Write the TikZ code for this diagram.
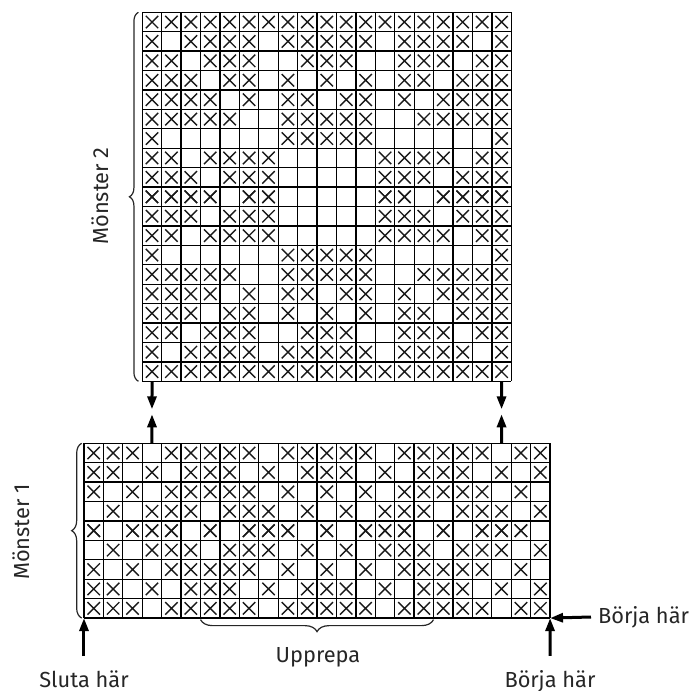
\documentclass[tikz,border=0pt]{standalone}
\usepackage{fontspec}
\setmainfont{Fira Sans}
\usetikzlibrary{arrows.meta,decorations.pathreplacing}
\tikzstyle{ruta}=[line width=0.65pt,draw=black]
\tikzstyle{kryss}=[line width=0.7pt,draw=black!90]
\tikzstyle{pil}=[line width=1.5pt,-{Triangle[length=6.5pt,width=4.5pt]}]
\tikzstyle{klammer}=[decorate,decoration={brace,amplitude=5pt},line width=0.6pt,draw=black!85]
\tikzstyle{etikett}=[text=black!85,font=\fontsize{10.9}{13}\selectfont]
\newcommand{\kryss}[2]{\draw[kryss] ({#1+0.18},{#2+0.18}) -- ({#1+0.82},{#2+0.82}) ({#1+0.82},{#2+0.18}) -- ({#1+0.18},{#2+0.82});}

\begin{document}
\begin{tikzpicture}[x=0.5pt,y=-0.5pt]
    \useasboundingbox (0,0) rectangle (693,691);

    % Moenster 2, 19 x 19
    \begin{scope}[shift={(142.3,12.3)},x=9.71pt,y=-9.71pt]
        \foreach \i in {0,...,19} {
            \draw[ruta] (\i,0) -- (\i,19);
            \draw[ruta] (0,\i) -- (19,\i);
        }
        \foreach \r/\cs in {0/{0,...,18}, 1/{0,2,3,4,5,7,8,9,10,11,13,14,15,16,18},
                2/{0,1,3,4,5,8,9,10,13,14,15,17,18}, 3/{0,1,2,4,5,7,9,11,13,14,16,17,18},
                4/{0,1,2,3,5,7,8,10,11,13,15,16,17,18}, 5/{0,1,2,3,4,7,8,9,10,11,14,15,16,17,18},
                6/{0,7,8,9,10,11,18}, 7/{0,1,3,4,5,6,12,13,14,15,17,18},
                8/{0,1,2,4,5,6,12,13,14,16,17,18}, 9/{0,1,2,3,5,6,12,13,15,16,17,18}} {
            \foreach \c in \cs {\kryss{\c}{\r} \kryss{\c}{18-\r}}
        }
        \coordinate (m2vn) at (0.5,19);
        \coordinate (m2hn) at (18.5,19);
        \draw[klammer,decoration={amplitude=4.5pt}] (-0.2,19) -- (-0.2,0);
    \end{scope}

    % Moenster 1, 24 x 9
    \begin{scope}[shift={(84,443.3)},x=9.71pt,y=-9.71pt]
        \foreach \i in {0,...,24} \draw[ruta] (\i,0) -- (\i,9);
        \foreach \i in {0,...,9} \draw[ruta] (0,\i) -- (24,\i);
        \foreach \r/\cs in {0/{0,1,2,4,5,6,7,8,10,11}, 1/{0,1,3,5,6,7,9,11},
                2/{0,2,4,5,6,7,8,10}, 3/{1,3,4,5,7,8,9,11}, 4/{0,2,3,4,6,8,9,10}} {
            \foreach \c in \cs {\kryss{\c}{\r} \kryss{\c+12}{\r} \kryss{\c}{8-\r} \kryss{\c+12}{8-\r}}
        }
        \coordinate (m1vo) at (3.5,0);
        \coordinate (m1ho) at (21.5,0);
        \coordinate (m1vn) at (0,9);
        \coordinate (m1hn) at (24,9);
        \draw[klammer] (-0.12,9) -- (-0.12,0);
        \draw[klammer,decoration={amplitude=6pt}] (18,9.08) -- (6,9.08);
    \end{scope}

    \node[etikett,rotate=90] (m2text) at (100,196) {Mönster 2};
    \node[etikett,rotate=90] (m1text) at (21,532) {Mönster 1};
    \node[etikett,anchor=base] (upprepa) at (318,662) {Upprepa};
    \node[etikett,anchor=base] (sluta) at (84,687) {Sluta här};
    \node[etikett,anchor=base] (borja) at (550,687) {Börja här};
    \node[etikett,anchor=west] (borjah) at (591,617) {Börja här};

    \draw[pil,shorten >=17pt] (m2vn) -- (m1vo);
    \draw[pil,shorten >=16.5pt] (m1vo) -- (m2vn);
    \draw[pil,shorten >=17pt] (m2hn) -- (m1ho);
    \draw[pil,shorten >=16.5pt] (m1ho) -- (m2hn);
    \draw[pil,shorten <=3.5pt] (sluta) -- (m1vn);
    \draw[pil,shorten <=3.5pt] (borja) -- (m1hn);
    \draw[pil] (borjah.west) -- (m1hn);
\end{tikzpicture}
\end{document}
